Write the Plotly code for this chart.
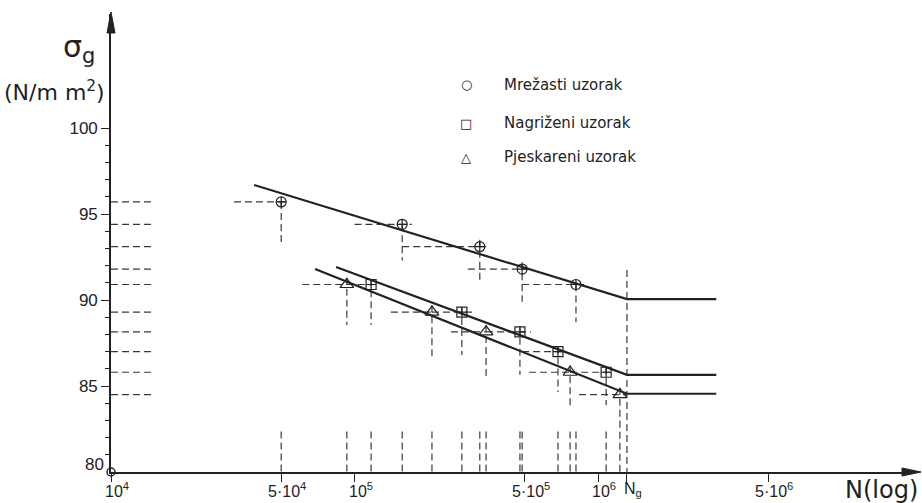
import math
import plotly.graph_objects as go

# ---------------- data ----------------
# Mrežasti uzorak (circles)
c_N = [5.0e4, 1.57e5, 3.27e5, 4.88e5, 8.12e5]
c_S = [95.7, 94.4, 93.1, 91.8, 90.9]
c_h_left = [3.2e4, 1.0e5, 1.57e5, 2.92e5, 4.88e5]
c_h_right = [5.3e4, 1.72e5, 3.57e5, 5.36e5, 8.93e5]
c_v_high = [95.7, 94.4, 93.5, 92.2, 90.9]
c_v_low = [93.35, 92.3, 91.05, 89.9, 88.7]

# Nagriženi uzorak (squares)
s_N = [1.17e5, 2.76e5, 4.78e5, 6.85e5, 1.08e6]
s_S = [90.9, 89.3, 88.15, 87.0, 85.8]
s_h_left = [9.3e4, 2.08e5, 3.47e5, 4.88e5, 7.68e5]
s_h_right = [1.22e5, 3.15e5, 5.31e5, 7.4e5, 1.14e6]
s_v_low = [88.55, 86.8, 85.65, 84.65, 83.9]

# Pjeskareni uzorak (triangles)
t_N = [9.3e4, 2.08e5, 3.47e5, 7.68e5, 1.23e6]
t_S = [90.9, 89.3, 88.15, 85.8, 84.5]
t_h_left = [6.1e4, 1.41e5, 2.49e5, 5.21e5, 8.36e5]
t_h_right = [9.3e4, 2.08e5, 3.47e5, 7.68e5, 1.315e6]
t_v_low = [88.55, 86.7, 85.5, 83.85, 80.0]

# fitted Wöhler lines: start point, knee at Ng, horizontal end
Ng = 1.315e6
N_end = 3.06e6
c_line_start = (3.87e4, 96.69)
s_line_start = (8.4e4, 91.92)
t_line_start = (6.89e4, 91.8)
c_endurance = 90.05
s_endurance = 85.65
t_endurance = 84.55

# axis ticks
x_tick_vals = [1e4, 5e4, 1e5, 5e5, 1e6, Ng, 5e6]
x_tick_text = ["10<sup>4</sup>", "5·10<sup>4</sup>", "10<sup>5</sup>", "5·10<sup>5</sup>",
               "10<sup>6</sup>", "N<sub>g</sub>", "5·10<sup>6</sup>"]
y_tick_vals = [85, 90, 95, 100]
y_tick_text = ["85", "90", "95", "100"]
y_minor_vals = [v for v in range(81, 100) if v % 5 != 0]

legend_names = ["Mrežasti uzorak", "Nagriženi uzorak", "Pjeskareni uzorak"]
legend_glyphs = ["○", "□", "△"]

# ---------------- styling ----------------
INK = "#222222"
DASH_C = "#3a3a3a"
DASH = "7px,4px"
FONT_NUM = "Liberation Sans"
FONT_TXT = "DejaVu Sans"

# dashed segments
dx, dy = [], []
def seg(x0, y0, x1, y1):
    dx.extend([x0, x1, None]); dy.extend([y0, y1, None])

for i in range(5):
    seg(c_h_left[i], c_S[i], c_h_right[i], c_S[i])
    seg(c_N[i], c_v_high[i], c_N[i], c_v_low[i])
    seg(s_h_left[i], s_S[i], s_h_right[i], s_S[i])
    seg(s_N[i], s_S[i] + 0.3, s_N[i], s_v_low[i])
    seg(t_h_left[i], t_S[i], t_h_right[i], t_S[i])
    seg(t_N[i], t_S[i] + 0.4, t_N[i], t_v_low[i])

# Ng vertical
seg(Ng, 91.75, Ng, 80.0)

# projections on N axis
proj_N = c_N + s_N + t_N[:4]
for n in proj_N:
    seg(n, 82.35, n, 80.0)

# projections on stress axis
levels = sorted(set(c_S + s_S + t_S))
for lv in levels:
    seg(1e4, lv, 1.5e4, lv)

fig = go.Figure()
fig.add_trace(go.Scatter(x=dx, y=dy, mode="lines",
                         line=dict(color=DASH_C, width=1.2, dash=DASH),
                         hoverinfo="skip", showlegend=False))

for start, endur in [(c_line_start, c_endurance), (s_line_start, s_endurance), (t_line_start, t_endurance)]:
    fig.add_trace(go.Scatter(x=[start[0], Ng, N_end], y=[start[1], endur, endur], mode="lines",
                             line=dict(color=INK, width=2.2), showlegend=False, hoverinfo="skip"))

fig.add_trace(go.Scatter(x=c_N, y=c_S, mode="markers", showlegend=False,
                         marker=dict(symbol="circle-cross-open", size=10, color=INK, line=dict(width=1.2))))
fig.add_trace(go.Scatter(x=s_N, y=s_S, mode="markers", showlegend=False,
                         marker=dict(symbol="square-cross-open", size=10, color=INK, line=dict(width=1.2))))
fig.add_trace(go.Scatter(x=t_N, y=t_S, mode="markers", showlegend=False,
                         marker=dict(symbol="triangle-up-open", size=12, color=INK, line=dict(width=1.2))))

# origin circle
fig.add_trace(go.Scatter(x=[1e4], y=[80], mode="markers", showlegend=False, cliponaxis=False,
                         marker=dict(symbol="circle", size=8, color="white", line=dict(color=INK, width=1.4))))

annotations = []
for v, t in zip(x_tick_vals, x_tick_text):
    annotations.append(dict(x=math.log10(v), y=0, xref="x", yref="paper", text=t, showarrow=False,
                            xanchor="center", yanchor="top", xshift=6, yshift=-6,
                            font=dict(family=FONT_NUM, size=16, color=INK)))
annotations.append(dict(x=math.log10(1e4), y=80, xref="x", yref="y", text="80", showarrow=False,
                        xanchor="right", yanchor="bottom", xshift=-5, yshift=-4,
                        font=dict(family=FONT_NUM, size=17, color=INK)))
annotations.append(dict(x=1.0, y=0, xref="paper", yref="paper", text="N(log)", showarrow=False,
                        xanchor="right", yanchor="top", xshift=8, yshift=-2,
                        font=dict(family=FONT_TXT, size=24, color=INK)))
annotations.append(dict(x=0, y=1, xref="paper", yref="paper", text="σ<sub>g</sub>", showarrow=False,
                        xanchor="right", yanchor="middle", xshift=-14, yshift=-34,
                        font=dict(family=FONT_TXT, size=30, color=INK)))
annotations.append(dict(x=0, y=1, xref="paper", yref="paper", text="(N/m m<sup>2</sup>)", showarrow=False,
                        xanchor="right", yanchor="middle", xshift=-4, yshift=-77,
                        font=dict(family=FONT_TXT, size=22, color=INK)))

# arrowheads / legend placement (window pixels; plot area: x 111..912, y 14..472)
W, H = 801.0, 458.0
def px(xp): return (xp - 111) / W
def py(yp): return (472 - yp) / H

for k, (g, name) in enumerate(zip(legend_glyphs, legend_names)):
    yy = py([85, 123, 157][k])
    annotations.append(dict(x=px(466), y=yy, xref="paper", yref="paper", text=g, showarrow=False,
                            xanchor="center", yanchor="middle",
                            font=dict(family=FONT_TXT, size=13, color=INK)))
    annotations.append(dict(x=px(502), y=yy, xref="paper", yref="paper", text=name, showarrow=False,
                            xanchor="left", yanchor="middle",
                            font=dict(family=FONT_TXT, size=15, color=INK)))

shapes = [
    dict(type="path", xref="paper", yref="paper",
         path=f"M {px(111)} {py(12)} L {px(107)} {py(33)} L {px(115)} {py(33)} Z",
         fillcolor=INK, line=dict(color=INK, width=1)),
    dict(type="path", xref="paper", yref="paper",
         path=f"M {px(921)} {py(472)} L {px(902)} {py(468)} L {px(902)} {py(476)} Z",
         fillcolor=INK, line=dict(color=INK, width=1)),
]

fig.update_layout(
    width=922, height=503,
    margin=dict(l=111, r=10, t=14, b=31),
    paper_bgcolor="white", plot_bgcolor="white",
    showlegend=False,
    annotations=annotations,
    shapes=shapes,
    xaxis=dict(type="log", range=[4.0, 4.0 + 801 / 243.5], showgrid=False, zeroline=False,
               showline=True, linecolor=INK, linewidth=1.6,
               tickvals=x_tick_vals, ticks="outside", ticklen=8, tickwidth=1.4, tickcolor=INK,
               showticklabels=False),
    yaxis=dict(range=[80, 80 + 458 / 17.2], showgrid=False, zeroline=False,
               showline=True, linecolor=INK, linewidth=1.6,
               tickvals=y_tick_vals, ticktext=y_tick_text, ticks="outside", ticklen=8,
               tickwidth=1.4, tickcolor=INK,
               tickfont=dict(family=FONT_NUM, size=17, color=INK),
               minor=dict(tickvals=y_minor_vals, ticks="outside", ticklen=4, tickwidth=1.2, tickcolor=INK)),
)

fig.write_html("out.html", config={"displayModeBar": False},
               post_script="document.body.style.margin='0';document.body.style.overflow='hidden';")
